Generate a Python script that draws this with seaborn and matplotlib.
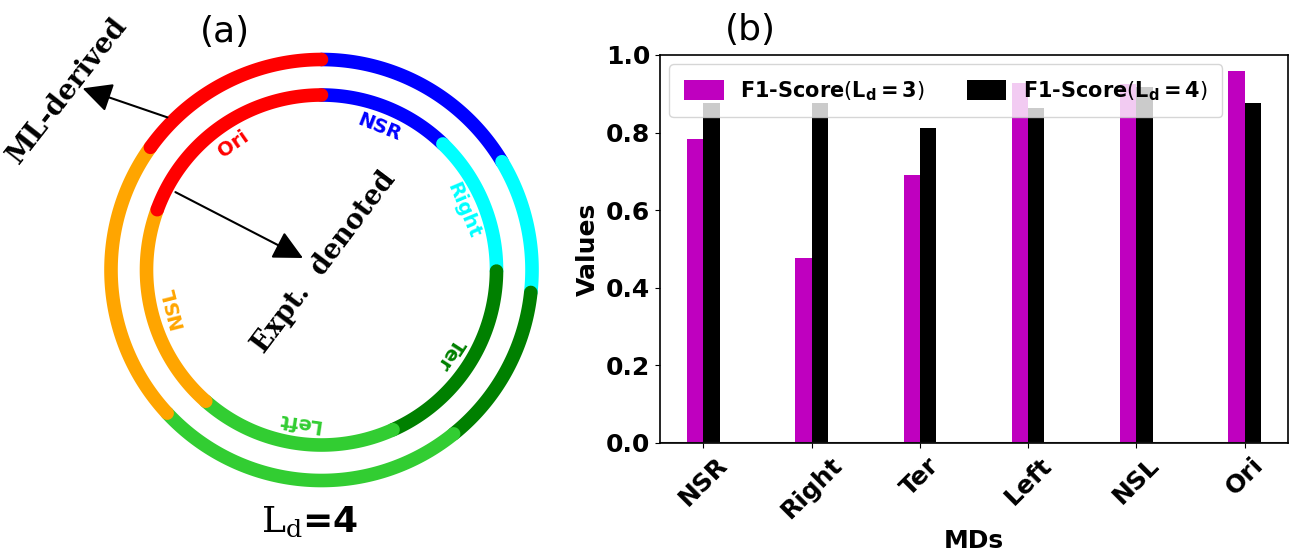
import numpy as np
import pandas as pd
import matplotlib
matplotlib.use('Agg')
import matplotlib.pyplot as plt
import seaborn as sns

# Data
md_labels = ['NSR', 'Right', 'Ter', 'Left', 'NSL', 'Ori']
md_colors = ['blue', 'cyan', 'green', 'limegreen', 'orange', 'red']
ml_share = [16.4, 10.3, 12.5, 23.9, 21.8, 15.1]      # outer ring (%), ML-derived
expt_share = [12.2, 12.9, 18.2, 18.2, 19.1, 19.4]    # inner ring (%), Expt. denoted
f1_ld3 = [0.783, 0.478, 0.690, 0.927, 0.925, 0.960]
f1_ld4 = [0.876, 0.876, 0.811, 0.863, 0.918, 0.876]
lab3 = r'F1-Score$(\mathbf{L_d = 3})$'
lab4 = r'F1-Score$(\mathbf{L_d = 4})$'

W, H = 1291, 556
fig = plt.figure(figsize=(W / 100, H / 100), dpi=100)

# (a) ring diagram
ax_a = fig.add_axes([0, 0, 570 / W, 1])
R = 210.5
cx, cy = 321.5, 270.0
ax_a.set_xlim(-cx / R, (570 - cx) / R)
ax_a.set_ylim(-(H - cy) / R, cy / R)
ax_a.axis('off')
r_out, r_in = 1.0, 175.0 / R


def draw_ring(ax, shares, radius):
    start = 90.0
    mids = []
    for share, color in zip(shares, md_colors):
        span = share / 100 * 360
        th = np.radians(np.linspace(start, start - span, 120))
        ax.plot(radius * np.cos(th), radius * np.sin(th), color=color,
                lw=9.8, solid_capstyle='round')
        mids.append(start - span / 2)
        start -= span
    return mids


draw_ring(ax_a, ml_share, r_out)
mids = draw_ring(ax_a, expt_share, r_in)

for lab, color, ang in zip(md_labels, md_colors, mids):
    t = np.radians(ang)
    ax_a.text(0.73 * np.cos(t), 0.73 * np.sin(t), lab, color=color,
              fontsize=14, fontweight='bold', rotation=ang - 90,
              rotation_mode='anchor', ha='center', va='center')

arrow = dict(arrowstyle='-|>,head_length=0.5,head_width=0.25', color='black',
             lw=1.5, mutation_scale=36, shrinkA=0, shrinkB=0)
ax_a.annotate('', xy=(-1.135, 0.863), xytext=(-0.732, 0.725), arrowprops=arrow)
ax_a.annotate('', xy=(-0.088, 0.057), xytext=(-0.694, 0.370), arrowprops=arrow)

ax_a.text(-1.206, 0.853, 'ML-derived', rotation=52, family='DejaVu Serif',
          fontweight='bold', fontsize=20, ha='center', va='center',
          rotation_mode='anchor')
ax_a.text(0.012, 0.038, 'Expt.  denoted', rotation=53, family='DejaVu Serif',
          fontweight='bold', fontsize=19.5, ha='center', va='center',
          rotation_mode='anchor')
ax_a.text(-0.0545, -1.194, r'$\mathrm{L_d}$=4', fontsize=26, fontweight='bold',
          math_fontfamily='dejavuserif', ha='center', va='center')

fig.text(225 / W, 1 - 32 / H, '(a)', fontsize=26, ha='center', va='center')
fig.text(750 / W, 1 - 30 / H, '(b)', fontsize=26, ha='center', va='center')

# (b) bar chart
ax_b = fig.add_axes([660 / W, 113 / H, 628 / W, 388 / H])
df = pd.DataFrame({
    'MD': md_labels * 2,
    'F1': f1_ld3 + f1_ld4,
    'Setting': [lab3] * len(md_labels) + [lab4] * len(md_labels),
})
sns.barplot(data=df, x='MD', y='F1', hue='Setting', palette=['m', 'k'],
            width=0.3, saturation=1, errorbar=None, ax=ax_b)
ax_b.axhline(0, color='0.3', lw=1.5)
ax_b.set_xlim(-0.4, 5.4)
ax_b.set_ylim(0, 1.0)
ax_b.set_yticks(np.arange(0, 1.01, 0.2))
ax_b.set_yticklabels([f'{v:.1f}' for v in np.arange(0, 1.01, 0.2)],
                     fontsize=18, fontweight='bold')
ax_b.set_xticks(range(len(md_labels)))
ax_b.set_xticklabels(md_labels, rotation=45, fontsize=18, fontweight='bold')
ax_b.set_xlabel('MDs', fontsize=18, fontweight='bold')
ax_b.set_ylabel('Values', fontsize=18, fontweight='bold')
for sp in ax_b.spines.values():
    sp.set_linewidth(1.2)
ax_b.legend(loc='upper left', ncol=2, prop={'weight': 'bold', 'size': 15},
            handlelength=1.9, handleheight=1.1, borderpad=0.7,
            handletextpad=0.8, columnspacing=2.0, borderaxespad=0.45)

fig.savefig('out.png', dpi=100)
